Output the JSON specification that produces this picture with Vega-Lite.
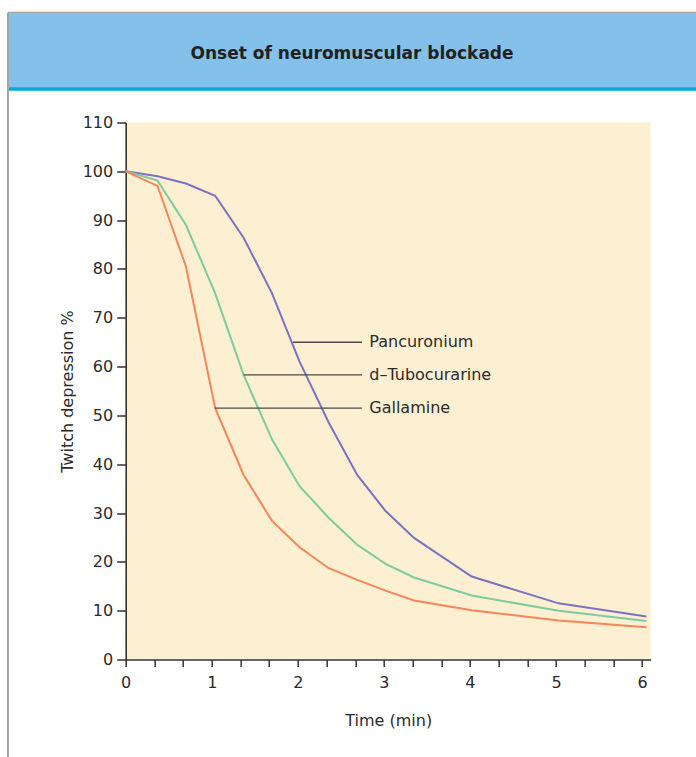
{
  "$schema": "https://vega.github.io/schema/vega-lite/v6.json",
  "autosize": {"type": "none"},
  "width": 525,
  "height": 537,
  "padding": {"left": 125.7, "top": 122.5, "right": 45.3, "bottom": 97.5},
  "background": "white",
  "config": {
    "view": {"fill": "#FDEFD1", "stroke": null},
    "font": "DejaVu Sans",
    "axis": {
      "labelFont": "DejaVu Sans", "titleFont": "DejaVu Sans",
      "labelColor": "#2B2B2B", "titleColor": "#2B2B2B",
      "labelFontSize": 16, "titleFontSize": 16, "titleFontWeight": "normal",
      "domainColor": "#333333", "domainWidth": 1.6,
      "tickColor": "#333333", "tickWidth": 1.5, "grid": false
    }
  },
  "datasets": {
    "curves": [
      {"drug": "Pancuronium", "t": 0, "v": 100},
      {"drug": "Pancuronium", "t": 0.37, "v": 99.0},
      {"drug": "Pancuronium", "t": 0.70, "v": 97.5},
      {"drug": "Pancuronium", "t": 1.04, "v": 95.0},
      {"drug": "Pancuronium", "t": 1.37, "v": 86.4},
      {"drug": "Pancuronium", "t": 1.70, "v": 75.0},
      {"drug": "Pancuronium", "t": 2.02, "v": 61.0},
      {"drug": "Pancuronium", "t": 2.36, "v": 48.5},
      {"drug": "Pancuronium", "t": 2.69, "v": 37.8},
      {"drug": "Pancuronium", "t": 3.02, "v": 30.4},
      {"drug": "Pancuronium", "t": 3.35, "v": 24.9},
      {"drug": "Pancuronium", "t": 4.02, "v": 17.0},
      {"drug": "Pancuronium", "t": 5.03, "v": 11.5},
      {"drug": "Pancuronium", "t": 6.05, "v": 8.8},
      {"drug": "d–Tubocurarine", "t": 0, "v": 100},
      {"drug": "d–Tubocurarine", "t": 0.37, "v": 98.1},
      {"drug": "d–Tubocurarine", "t": 0.70, "v": 89.0},
      {"drug": "d–Tubocurarine", "t": 1.04, "v": 75.0},
      {"drug": "d–Tubocurarine", "t": 1.37, "v": 58.3},
      {"drug": "d–Tubocurarine", "t": 1.70, "v": 45.1},
      {"drug": "d–Tubocurarine", "t": 2.02, "v": 35.5},
      {"drug": "d–Tubocurarine", "t": 2.36, "v": 29.0},
      {"drug": "d–Tubocurarine", "t": 2.69, "v": 23.5},
      {"drug": "d–Tubocurarine", "t": 3.02, "v": 19.6},
      {"drug": "d–Tubocurarine", "t": 3.35, "v": 16.8},
      {"drug": "d–Tubocurarine", "t": 4.02, "v": 13.1},
      {"drug": "d–Tubocurarine", "t": 5.03, "v": 10.0},
      {"drug": "d–Tubocurarine", "t": 6.05, "v": 7.9},
      {"drug": "Gallamine", "t": 0, "v": 100},
      {"drug": "Gallamine", "t": 0.37, "v": 97.0},
      {"drug": "Gallamine", "t": 0.70, "v": 80.5},
      {"drug": "Gallamine", "t": 1.04, "v": 51.5},
      {"drug": "Gallamine", "t": 1.37, "v": 37.8},
      {"drug": "Gallamine", "t": 1.70, "v": 28.4},
      {"drug": "Gallamine", "t": 2.02, "v": 23.0},
      {"drug": "Gallamine", "t": 2.36, "v": 18.7},
      {"drug": "Gallamine", "t": 2.69, "v": 16.3},
      {"drug": "Gallamine", "t": 3.02, "v": 14.1},
      {"drug": "Gallamine", "t": 3.35, "v": 12.1},
      {"drug": "Gallamine", "t": 4.02, "v": 10.1},
      {"drug": "Gallamine", "t": 5.03, "v": 8.0},
      {"drug": "Gallamine", "t": 6.05, "v": 6.6}
    ],
    "labels": [
      {"drug": "Pancuronium", "t0": 1.944, "t1": 2.745, "tl": 2.83, "v": 65.0},
      {"drug": "d–Tubocurarine", "t0": 1.37, "t1": 2.745, "tl": 2.83, "v": 58.3},
      {"drug": "Gallamine", "t0": 1.037, "t1": 2.745, "tl": 2.83, "v": 51.5}
    ]
  },
  "layer": [
    {
      "data": {"values": [{}]},
      "mark": {"type": "rect", "color": "#83C1EB"},
      "encoding": {
        "x": {"datum": -1.356, "type": "quantitative", "scale": {"domain": [0, 6.1], "nice": false}},
        "x2": {"datum": 6.7},
        "y": {"datum": 117.1, "type": "quantitative", "scale": {"domain": [0, 110], "nice": false}},
        "y2": {"datum": 132.3}
      }
    },
    {
      "data": {"values": [{}]},
      "mark": {"type": "rule", "color": "#00A9E0", "strokeWidth": 3.5},
      "encoding": {
        "x": {"datum": -1.356, "type": "quantitative"},
        "x2": {"datum": 6.7},
        "y": {"datum": 116.85, "type": "quantitative"}
      }
    },
    {
      "data": {"values": [{}]},
      "mark": {"type": "rule", "color": "#A3A3A3", "strokeWidth": 2},
      "encoding": {
        "x": {"datum": -1.368, "type": "quantitative"},
        "x2": {"datum": 6.7},
        "y": {"datum": 132.5, "type": "quantitative"}
      }
    },
    {
      "data": {"values": [{}]},
      "mark": {"type": "rule", "color": "#A3A3A3", "strokeWidth": 2},
      "encoding": {
        "x": {"datum": -1.368, "type": "quantitative"},
        "y": {"datum": 132.5, "type": "quantitative"},
        "y2": {"datum": -21}
      }
    },
    {
      "data": {"values": [{"title": "Onset of neuromuscular blockade"}]},
      "mark": {"type": "text", "font": "DejaVu Sans", "fontWeight": "bold", "fontSize": 17, "color": "#231F20", "align": "center", "baseline": "middle"},
      "encoding": {
        "x": {"datum": 2.63, "type": "quantitative"},
        "y": {"datum": 124.1, "type": "quantitative"},
        "text": {"field": "title"}
      }
    },
    {
      "data": {"name": "curves"},
      "mark": {"type": "line", "strokeWidth": 2},
      "encoding": {
        "x": {
          "field": "t", "type": "quantitative",
          "scale": {"domain": [0, 6.1], "nice": false},
          "axis": {
            "title": "Time (min)",
            "values": [0, 0.33333333, 0.66666667, 1, 1.33333333, 1.66666667, 2, 2.33333333, 2.66666667, 3, 3.33333333, 3.66666667, 4, 4.33333333, 4.66666667, 5, 5.33333333, 5.66666667, 6],
            "tickCount": 40,
            "labelExpr": "abs(datum.value - round(datum.value)) < 0.01 ? format(datum.value, 'd') : ''",
            "tickSize": 7, "labelPadding": 8, "titlePadding": 22, "labelFlush": false, "labelOverlap": false
          }
        },
        "y": {
          "field": "v", "type": "quantitative",
          "scale": {"domain": [0, 110], "nice": false},
          "axis": {
            "title": "Twitch depression %",
            "values": [0, 10, 20, 30, 40, 50, 60, 70, 80, 90, 100, 110],
            "tickCount": 40,
            "tickSize": 9, "labelPadding": 4, "titlePadding": 7, "labelFlush": false, "labelOverlap": false
          }
        },
        "color": {
          "field": "drug", "type": "nominal", "legend": null,
          "scale": {"domain": ["Pancuronium", "d–Tubocurarine", "Gallamine"], "range": ["#7B73C2", "#7ECB9C", "#F6855C"]}
        },
        "order": {"field": "t", "type": "quantitative"}
      }
    },
    {
      "data": {"name": "labels"},
      "mark": {"type": "rule", "color": "#4A4A4A", "strokeWidth": 1.4},
      "encoding": {
        "x": {"field": "t0", "type": "quantitative"},
        "x2": {"field": "t1"},
        "y": {"field": "v", "type": "quantitative"}
      }
    },
    {
      "data": {"name": "labels"},
      "mark": {"type": "text", "font": "DejaVu Sans", "fontSize": 16, "color": "#2B2B2B", "align": "left", "baseline": "middle"},
      "encoding": {
        "x": {"field": "tl", "type": "quantitative"},
        "y": {"field": "v", "type": "quantitative"},
        "text": {"field": "drug"}
      }
    }
  ]
}
